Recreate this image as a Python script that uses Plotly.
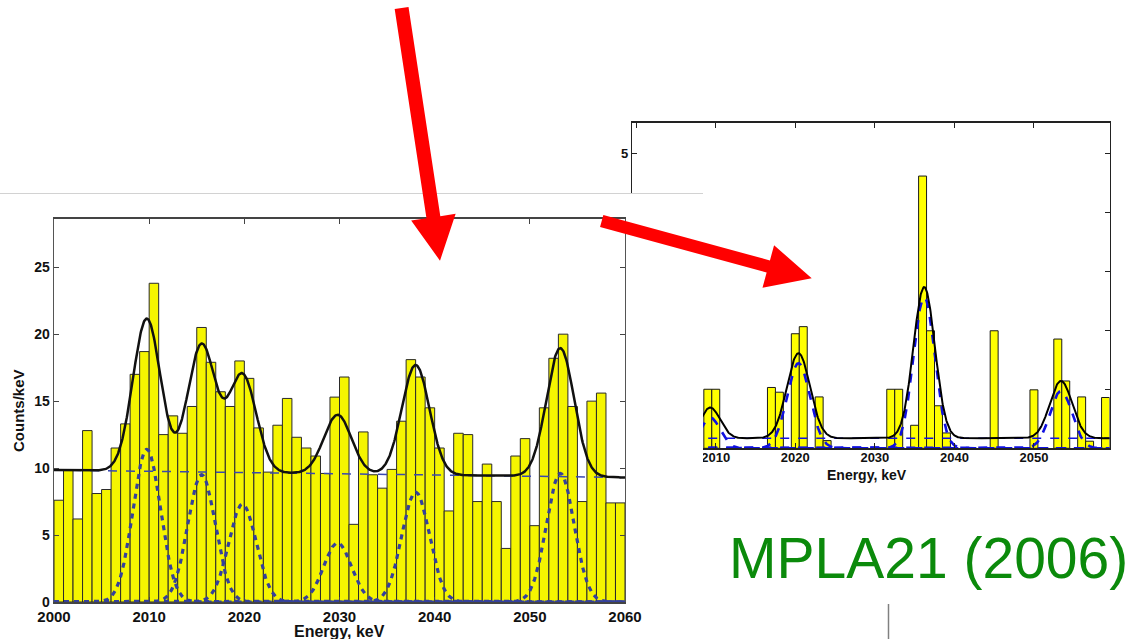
import numpy as np
import plotly.graph_objects as go

W, H = 1130, 639

# ---------------- data: left spectrum (1 keV bins, value = counts/keV) ----------------
left_bins = list(range(2000, 2060))
left_counts = [7.6, 9.85, 6.2, 12.8, 8.1, 8.4, 11.5, 13.3, 17.0, 18.7,
               23.8, 12.5, 13.9, 12.6, 14.6, 20.5, 17.9, 15.7, 14.6, 18.0,
               16.7, 13.0, 9.7, 13.2, 15.2, 12.3, 11.5, 10.9, 9.6, 15.3,
               16.8, 5.8, 12.7, 9.5, 8.5, 9.9, 13.5, 18.1, 16.8, 14.5,
               11.5, 6.8, 12.6, 12.5, 7.5, 10.3, 7.5, 4.0, 10.9, 12.2,
               5.7, 14.5, 18.2, 20.0, 14.6, 7.5, 15.0, 15.6, 7.4, 7.4]
left_bg_level = [9.85, 9.3]          # fitted background at 2000 keV and 2060 keV
left_peak_centers = [2009.75, 2015.5, 2019.8, 2029.8, 2038.0, 2053.2]
left_peak_heights = [11.4, 9.5, 7.3, 4.4, 8.2, 9.6]
left_peak_sigmas = [1.45, 1.45, 1.45, 1.45, 1.45, 1.45]
left_xticks = [2000, 2010, 2020, 2030, 2040, 2050, 2060]
left_yticks = [0, 5, 10, 15, 20, 25]

# ---------------- data: right spectrum ----------------
right_bins = [2009, 2010, 2017, 2018, 2020, 2021, 2023, 2024, 2032, 2033, 2035,
              2036, 2037, 2038, 2039, 2045, 2050, 2053, 2054, 2056, 2057, 2059]
right_counts = [1.0, 1.0, 1.03, 0.95, 1.94, 2.06, 0.87, 0.13, 1.0, 1.0, 0.39,
                4.61, 1.99, 0.72, 0.26, 1.99, 0.99, 1.85, 1.14, 0.87, 0.12, 0.86]
right_bg_level = 0.17
right_peak_centers = [2009.3, 2020.4, 2036.2, 2053.4]
right_peak_heights = [0.52, 1.44, 2.56, 0.97]
right_peak_sigmas = [1.25, 1.45, 1.35, 1.4]
right_xticks = [2000, 2010, 2020, 2030, 2040, 2050]
right_xticktext = ["", "2010", "2020", "2030", "2040", "2050"]   # 2000 is hidden by the slide panel
right_yticks = [0, 1, 2, 3, 4, 5]
right_yticktext = ["", "", "", "", "", "5"]                      # only "5" is visible

# ---------------- fit model curves from the read parameters ----------------
e = np.linspace(2000, 2060, 1201)


def gauss(c, h, s):
    return h * np.exp(-0.5 * ((e - c) / s) ** 2)


left_bg = left_bg_level[0] + (left_bg_level[1] - left_bg_level[0]) * (e - 2000) / 60.0
left_comp = [gauss(c, h, s) for c, h, s in zip(left_peak_centers, left_peak_heights, left_peak_sigmas)]
left_total = left_bg + sum(left_comp)

right_bg = np.full_like(e, right_bg_level)
right_comp = [gauss(c, h, s) for c, h, s in zip(right_peak_centers, right_peak_heights, right_peak_sigmas)]
right_total = right_bg + sum(right_comp)

BOLD = "bold"
FONT = "Liberation Sans"

fig = go.Figure()

# ---- right (background) spectrum : axes x / y ----
fig.add_trace(go.Bar(x=right_bins, y=right_counts, width=1, xaxis="x", yaxis="y",
                     marker=dict(color="#ffff00", line=dict(color="#1a1a1a", width=1)),
                     showlegend=False, hoverinfo="skip"))
fig.add_trace(go.Scatter(x=e, y=right_bg, mode="lines", xaxis="x", yaxis="y",
                         line=dict(color="#1010e0", width=1.6, dash="dash"),
                         showlegend=False, hoverinfo="skip"))
for comp in right_comp:
    fig.add_trace(go.Scatter(x=e, y=comp, mode="lines", xaxis="x", yaxis="y",
                             line=dict(color="#1010e0", width=2.6, dash="dash"),
                             showlegend=False, hoverinfo="skip"))
fig.add_trace(go.Scatter(x=e, y=right_total, mode="lines", xaxis="x", yaxis="y",
                         line=dict(color="#000000", width=2),
                         showlegend=False, hoverinfo="skip"))

# ---- white slide panel that hides part of the right spectrum : axes x2 / y2 ----
fig.add_trace(go.Scatter(x=[], y=[], xaxis="x2", yaxis="y2", showlegend=False, hoverinfo="skip"))

# ---- left (front) spectrum : axes x3 / y3 ----
fig.add_trace(go.Bar(x=left_bins, y=left_counts, width=1, offset=0, xaxis="x3", yaxis="y3",
                     marker=dict(color="#f5f500", line=dict(color="#2a2a2a", width=1)),
                     showlegend=False, hoverinfo="skip"))
for comp in left_comp:
    fig.add_trace(go.Scatter(x=e, y=comp, mode="lines", xaxis="x3", yaxis="y3",
                             line=dict(color="#34409c", width=3.2, dash="5px,5px"),
                             showlegend=False, hoverinfo="skip"))
fig.add_trace(go.Scatter(x=e, y=left_bg, mode="lines", xaxis="x3", yaxis="y3",
                         line=dict(color="#3848b0", width=1.5, dash="dash"),
                         showlegend=False, hoverinfo="skip"))
fig.add_trace(go.Scatter(x=e, y=left_total, mode="lines", xaxis="x3", yaxis="y3",
                         line=dict(color="#111111", width=2.5),
                         showlegend=False, hoverinfo="skip"))


def px(x):
    return x / W


def py(y):
    return 1 - y / H


axis_common = dict(showgrid=False, zeroline=False, ticks="inside", ticklen=5,
                   mirror="ticks", showline=True, fixedrange=True, automargin=False)

fig.update_layout(
    width=W, height=H,
    margin=dict(l=0, r=0, t=0, b=0, pad=0, autoexpand=False),
    paper_bgcolor="white", plot_bgcolor="white",
    showlegend=False, bargap=0,
    font=dict(family=FONT, color="#111111"),
    xaxis=dict(domain=[px(632), px(1109.5)], range=[1999.47, 2059.5], anchor="y",
               tickvals=right_xticks, ticktext=right_xticktext, ticklabelstandoff=-3,
               linecolor="#222222", linewidth=1.2,
               tickcolor="#222222", tickfont=dict(family=FONT, size=13, weight=BOLD, color="#111"),
               **axis_common),
    yaxis=dict(domain=[py(448.3), py(122.5)], range=[0, 5.517], anchor="x",
               tickvals=right_yticks, ticktext=right_yticktext,
               linecolor="#222222", linewidth=1.2,
               tickcolor="#222222", tickfont=dict(family=FONT, size=13, weight=BOLD, color="#111"),
               **axis_common),
    xaxis2=dict(domain=[0, px(703)], range=[0, 1], anchor="y2", side="top",
                showline=True, linecolor="#d2d2d2", linewidth=1, showticklabels=False,
                ticks="", showgrid=False, zeroline=False, fixedrange=True, automargin=False),
    yaxis2=dict(domain=[0, py(194)], range=[0, 1], anchor="x2",
                showline=False, showticklabels=False, ticks="", showgrid=False,
                zeroline=False, fixedrange=True, automargin=False),
    xaxis3=dict(domain=[px(54), px(625)], range=[2000, 2060], anchor="y3",
                tickvals=left_xticks, ticklabelstandoff=0, linecolor="#444444", linewidth=1.8,
                tickcolor="#444444", tickfont=dict(family=FONT, size=15, weight=BOLD, color="#111"),
                **axis_common),
    yaxis3=dict(domain=[py(602), py(219)], range=[0, 28.6], anchor="x3",
                tickvals=left_yticks, linecolor="#555555", linewidth=1.4,
                tickcolor="#444444", tickfont=dict(family=FONT, size=14, weight=BOLD, color="#111"),
                **axis_common),
)


def arrow_path(tail, tip, shaft_w, head_len, head_w):
    (x0, y0), (x1, y1) = tail, tip
    dx, dy = x1 - x0, y1 - y0
    L = (dx * dx + dy * dy) ** 0.5
    ux, uy = dx / L, dy / L
    nx, ny = -uy, ux
    bx, by = x1 - ux * head_len, y1 - uy * head_len
    pts = [(x0 + nx * shaft_w / 2, y0 + ny * shaft_w / 2),
           (bx + nx * shaft_w / 2, by + ny * shaft_w / 2),
           (bx + nx * head_w / 2, by + ny * head_w / 2),
           (x1, y1),
           (bx - nx * head_w / 2, by - ny * head_w / 2),
           (bx - nx * shaft_w / 2, by - ny * shaft_w / 2),
           (x0 - nx * shaft_w / 2, y0 - ny * shaft_w / 2)]
    return "M " + " L ".join(f"{px(a):.5f},{py(b):.5f}" for a, b in pts) + " Z"


fig.add_shape(type="path", xref="paper", yref="paper", layer="above",
              path=arrow_path((401.6, 8), (440, 260.7), 14, 44, 45),
              fillcolor="#ff0000", line=dict(width=0))
fig.add_shape(type="path", xref="paper", yref="paper", layer="above",
              path=arrow_path((601.7, 221), (811.7, 278.3), 12.5, 45, 44),
              fillcolor="#ff0000", line=dict(width=0))
fig.add_shape(type="line", xref="paper", yref="paper", layer="above",
              x0=px(888.5), x1=px(888.5), y0=py(604), y1=py(639),
              line=dict(color="#808080", width=1.5))

fig.add_annotation(text="Counts/keV", xref="paper", yref="paper", x=px(18), y=py(411),
                   textangle=-90, showarrow=False, xanchor="center", yanchor="middle",
                   font=dict(family=FONT, size=15, weight=BOLD, color="#111"))
fig.add_annotation(text="Energy, keV", xref="paper", yref="paper", x=px(339), y=py(631),
                   showarrow=False, xanchor="center", yanchor="middle",
                   font=dict(family=FONT, size=16, weight=BOLD, color="#111"))
fig.add_annotation(text="Energy, keV", xref="paper", yref="paper", x=px(867), y=py(475),
                   showarrow=False, xanchor="center", yanchor="middle",
                   font=dict(family=FONT, size=14, weight=BOLD, color="#111"))
fig.add_annotation(text="MPLA21 (2006)", xref="paper", yref="paper", x=px(928), y=py(558.4),
                   showarrow=False, xanchor="center", yanchor="middle",
                   font=dict(family=FONT, size=57, color="#0b8a0b"))

fig.write_html("out.html", include_plotlyjs=True, full_html=True,
               config={"displayModeBar": False, "staticPlot": True},
               post_script="document.body.style.margin='0';document.body.style.overflow='hidden';")
